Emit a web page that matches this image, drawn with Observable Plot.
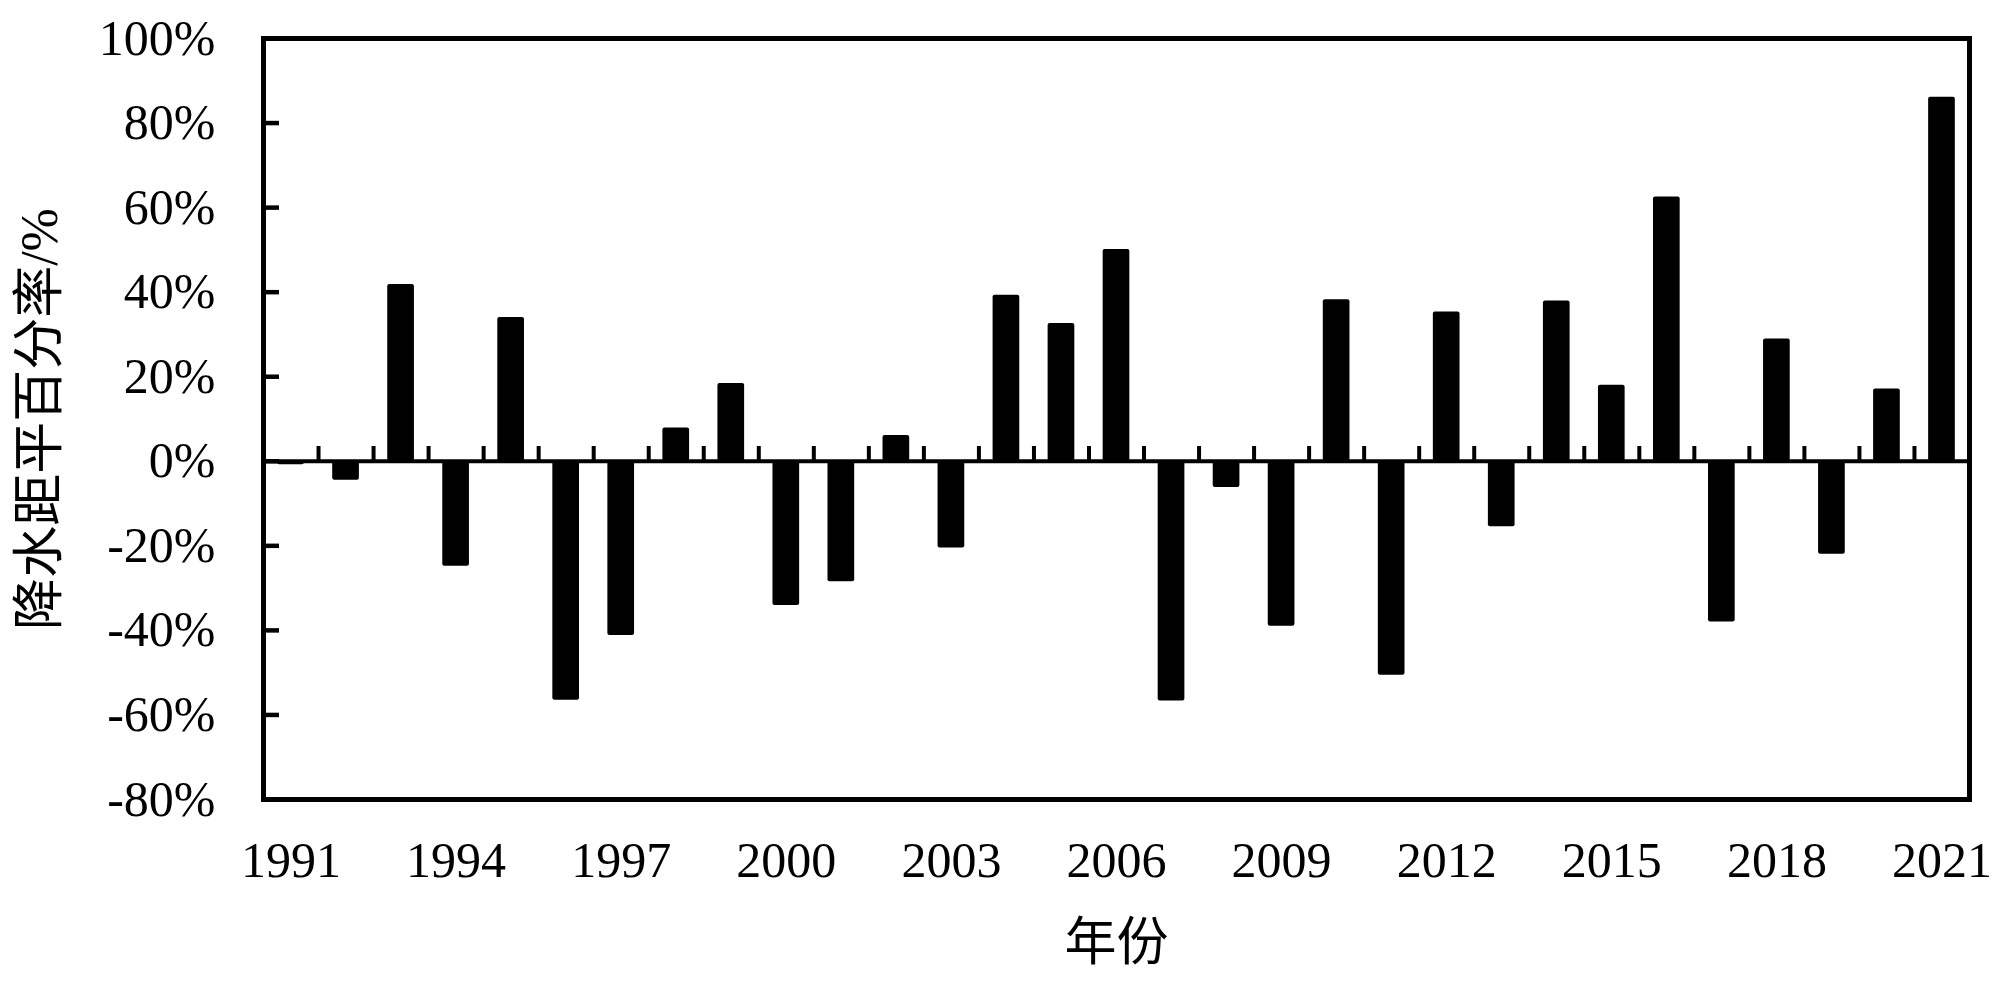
<!DOCTYPE html>
<html>
<head>
<meta charset="utf-8">
<script src="https://cdn.jsdelivr.net/npm/d3@7"></script>
<script src="https://cdn.jsdelivr.net/npm/@observablehq/plot@0.6"></script>
<style>
  html, body { margin: 0; padding: 0; background: white; }
</style>
</head>
<body>
<div id="chart"></div>
<script>
const years = [1991, 1992, 1993, 1994, 1995, 1996, 1997, 1998, 1999, 2000,
               2001, 2002, 2003, 2004, 2005, 2006, 2007, 2008, 2009, 2010,
               2011, 2012, 2013, 2014, 2015, 2016, 2017, 2018, 2019, 2020, 2021];
const anomaly = [-0.8, -4.5, 41.8, -24.8, 34.0, -56.5, -41.2, 7.9, 18.4, -34.1,
                 -28.5, 6.1, -20.5, 39.3, 32.6, 50.1, -56.7, -6.2, -39.0, 38.2,
                 -50.6, 35.3, -15.5, 37.9, 18.0, 62.5, -38.0, 28.9, -22.0, 17.1, 86.1];
const xTickLabels = [1991, 1994, 1997, 2000, 2003, 2006, 2009, 2012, 2015, 2018, 2021];
const yTickValues = [-80, -60, -40, -20, 0, 20, 40, 60, 80, 100];
const xTitle = "年份";
const yTitle = "降水距平百分率/%";

const data = years.map((year, i) => ({year, value: anomaly[i]}));
const boundaries = years.slice(0, -1).map(y => y + 0.5);
const halfBar = 0.2425;

const W = 2000, H = 989;
const mL = 263, mR = 31, mT = 38, mB = 190;
const innerW = W - mL - mR;
const xMin = years[0] - 0.5, xMax = years[years.length - 1] + 0.5;
const yTickLenPx = 16;
const yTickLenX = yTickLenPx * (xMax - xMin) / innerW;

const chart = Plot.plot({
  width: W,
  height: H,
  marginLeft: mL,
  marginRight: mR,
  marginTop: mT,
  marginBottom: mB,
  style: {
    fontFamily: "'Liberation Serif', 'Noto Sans CJK SC', serif",
    fontSize: "50px",
    color: "black",
    background: "white"
  },
  x: {type: "linear", domain: [xMin, xMax]},
  y: {domain: [-80, 100]},
  marks: [
    Plot.rectY(data, {
      x1: d => d.year - halfBar,
      x2: d => d.year + halfBar,
      y: "value",
      fill: "black",
      rx: 2
    }),
    Plot.ruleY([0], {stroke: "black", strokeWidth: 4}),
    Plot.ruleX(boundaries, {y1: 0, y2: 3.5, stroke: "black", strokeWidth: 4}),
    Plot.axisY({
      ticks: yTickValues,
      tickSize: 0,
      tickPadding: 48,
      tickFormat: d => `${d}%`,
      fontSize: 50,
      label: null
    }),
    Plot.axisX({
      ticks: xTickLabels,
      tickSize: 0,
      tickPadding: 42,
      tickFormat: d => String(d),
      fontSize: 50,
      label: null
    }),
    Plot.frame({stroke: "black", strokeWidth: 5}),
    Plot.ruleY(yTickValues, {
      x1: xMin,
      x2: xMin + yTickLenX,
      stroke: "black",
      strokeWidth: 4.5
    }),
    Plot.text([xTitle], {frameAnchor: "bottom", dy: 160, fontSize: 52, fill: "black"}),
    Plot.text([yTitle], {frameAnchor: "left", textAnchor: "middle", dx: -223, rotate: -90, fontSize: 52, fill: "black"})
  ]
});

document.getElementById("chart").appendChild(chart);
</script>
</body>
</html>
